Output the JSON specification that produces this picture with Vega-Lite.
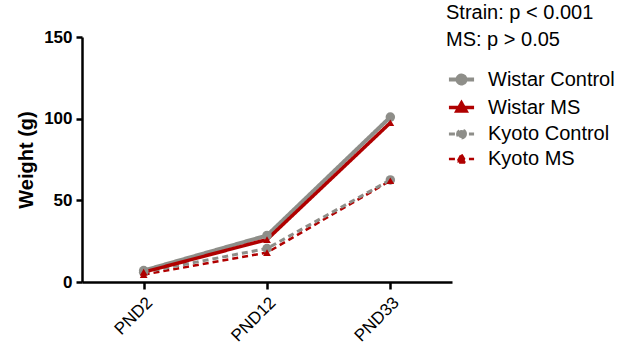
{
  "$schema": "https://vega.github.io/schema/vega-lite/v6.json",
  "width": 370,
  "height": 245,
  "autosize": "none",
  "padding": {"left": 82, "top": 37, "right": 182, "bottom": 68},
  "background": "white",
  "config": {
    "font": "Liberation Sans",
    "view": {"stroke": null},
    "axis": {"grid": false, "domainColor": "black", "tickColor": "black", "labelColor": "black", "titleColor": "black", "domainWidth": 2.5, "tickWidth": 2.5, "tickSize": 6},
    "legend": {"orient": "none", "legendX": 364, "legendY": -34,
      "titleFontSize": 20, "titleFontWeight": "normal", "titleLineHeight": 27, "titleColor": "black", "titlePadding": 14, "titleLimit": 300,
      "labelFontSize": 20, "labelColor": "black", "labelLimit": 300, "labelOffset": 11,
      "rowPadding": 0.5, "symbolSize": 700, "symbolOpacity": 1, "symbolStrokeWidth": 2.5}
  },
  "title": {"text": "D", "anchor": "start", "frame": "bounds", "fontSize": 22, "fontWeight": "normal", "font": "Liberation Sans", "baseline": "bottom", "offset": -5, "color": "black"},
  "data": {"values": [
    {"day": "PND2", "group": "Kyoto MS", "weight": 4.5},
    {"day": "PND12", "group": "Kyoto MS", "weight": 18},
    {"day": "PND33", "group": "Kyoto MS", "weight": 62},
    {"day": "PND2", "group": "Kyoto Control", "weight": 6},
    {"day": "PND12", "group": "Kyoto Control", "weight": 20.5},
    {"day": "PND33", "group": "Kyoto Control", "weight": 62.5},
    {"day": "PND2", "group": "Wistar Control", "weight": 7},
    {"day": "PND12", "group": "Wistar Control", "weight": 28.5},
    {"day": "PND33", "group": "Wistar Control", "weight": 101},
    {"day": "PND2", "group": "Wistar MS", "weight": 6},
    {"day": "PND12", "group": "Wistar MS", "weight": 26},
    {"day": "PND33", "group": "Wistar MS", "weight": 97.5}
  ]},
  "encoding": {
    "x": {"field": "day", "type": "ordinal", "sort": ["PND2", "PND12", "PND33"], "scale": {"type": "point", "padding": 0.5},
      "axis": {"title": null, "labelAngle": -45, "labelFontSize": 17, "labelPadding": 5, "tickSize": 7}},
    "y": {"field": "weight", "type": "quantitative", "scale": {"domain": [0, 150], "nice": false},
      "axis": {"values": [0, 50, 100, 150], "title": "Weight (g)", "titleFontSize": 20, "titleFontWeight": "bold", "labelFontSize": 17, "labelFontWeight": "bold", "titlePadding": 7, "labelPadding": 4}}
  },
  "layer": [
    {
      "mark": {"type": "line"},
      "encoding": {
        "color": {"field": "group", "type": "nominal", "scale": {"domain": ["Wistar Control", "Wistar MS", "Kyoto Control", "Kyoto MS"], "range": ["#8e8e89", "#b00000", "#8e8e89", "#b00000"]}},
        "strokeDash": {"field": "group", "type": "nominal", "scale": {"domain": ["Wistar Control", "Wistar MS", "Kyoto Control", "Kyoto MS"], "range": [[1, 0], [1, 0], [6, 4], [6, 4]]}, "legend": null},
        "strokeWidth": {"field": "group", "type": "nominal", "scale": {"domain": ["Wistar Control", "Wistar MS", "Kyoto Control", "Kyoto MS"], "range": [4, 2.5, 3, 3]}, "legend": null},
        "detail": {"field": "group"}
      }
    },
    {
      "transform": [{"filter": "datum.group == 'Wistar Control' || datum.group == 'Kyoto Control'"}],
      "mark": {"type": "point", "filled": true, "opacity": 1, "shape": "circle", "size": 90},
      "encoding": {
        "color": {"field": "group", "type": "nominal",
          "legend": {"title": ["Strain: p < 0.001", "MS: p > 0.05"],
            "encode": {"symbols": {"update": {
              "shape": {"signal": "datum.value == 'Wistar MS' || datum.value == 'Kyoto MS' ? 'M-0.95,0H0.95M0,-0.34L0.34,0.26L-0.34,0.26Z' : 'M-0.95,0H0.95M0.3,0A0.3,0.3 0 1,1 -0.3,0A0.3,0.3 0 1,1 0.3,0Z'"},
              "stroke": {"signal": "datum.value == 'Wistar MS' || datum.value == 'Kyoto MS' ? '#b00000' : '#8e8e89'"},
              "fill": {"signal": "datum.value == 'Wistar MS' || datum.value == 'Kyoto MS' ? '#b00000' : '#8e8e89'"},
              "strokeDash": {"signal": "datum.value == 'Kyoto Control' || datum.value == 'Kyoto MS' ? [6, 4] : [1, 0]"},
              "strokeWidth": {"value": 2.5},
              "size": {"value": 700}
            }}}}}
      }
    },
    {
      "transform": [{"filter": "datum.group == 'Wistar MS' || datum.group == 'Kyoto MS'"}],
      "mark": {"type": "point", "filled": true, "opacity": 1, "shape": "triangle-up", "size": 60},
      "encoding": {
        "color": {"field": "group", "type": "nominal"}
      }
    }
  ]
}
